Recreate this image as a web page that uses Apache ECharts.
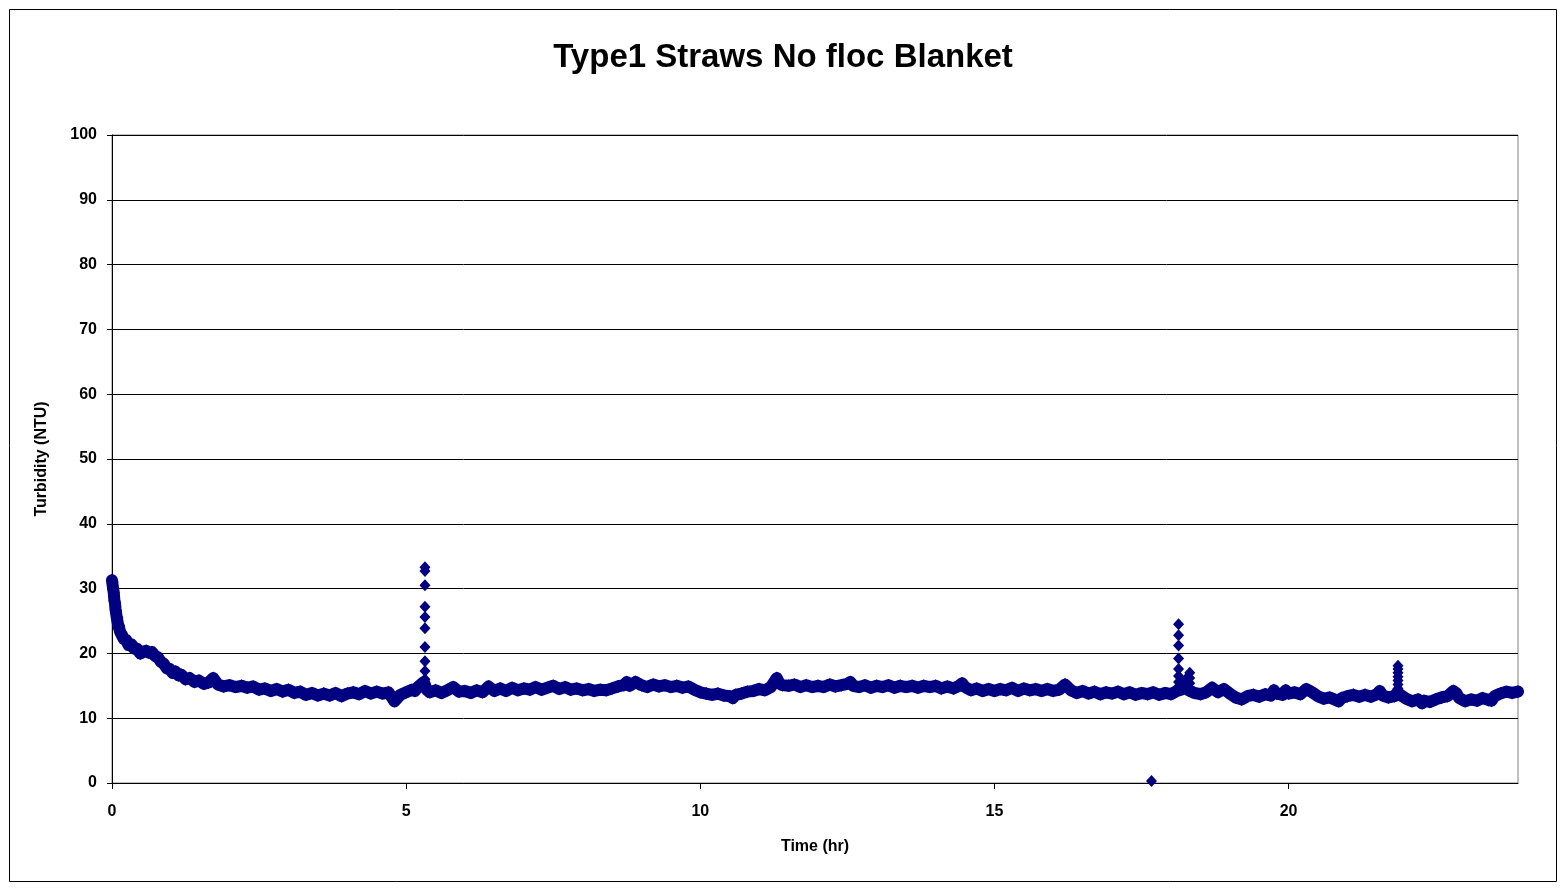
<!DOCTYPE html>
<html>
<head>
<meta charset="utf-8">
<title>Type1 Straws No floc Blanket</title>
<script src="https://cdn.jsdelivr.net/npm/echarts@6/dist/echarts.min.js"></script>
<style>
  html, body { margin: 0; padding: 0; background: #fff; }
  #chartContent { width: 1566px; height: 891px; }
</style>
</head>
<body>
<div id="chartContent"></div>
<script>
// ---- data ----
// baseline run of readings (hr, NTU)
var baseTime = [
  0, 0.01, 0.02, 0.03, 0.04, 0.05, 0.06, 0.07, 0.08, 0.09, 0.10, 0.12, 0.14, 0.17, 0.20, 0.24, 0.28, 0.33, 0.38, 0.43,
  0.48, 0.53, 0.58, 0.63, 0.68, 0.73, 0.78, 0.83, 0.88, 0.93, 0.98, 1.03, 1.08, 1.13, 1.18, 1.25, 1.32, 1.40, 1.48, 1.56,
  1.64, 1.72,
  1.8, 1.9, 2.0, 2.1, 2.2, 2.3, 2.4, 2.5, 2.6, 2.7, 2.8, 2.9,
  3.0, 3.1, 3.2, 3.3, 3.4, 3.5, 3.6, 3.7, 3.8, 3.9,
  4.0, 4.1, 4.2, 4.3, 4.4, 4.5, 4.6, 4.7, 4.75, 4.8, 4.85, 4.9,
  5.0, 5.1, 5.15, 5.2, 5.25, 5.3, 5.35,
  5.4, 5.5, 5.6, 5.7, 5.8, 5.9, 6.0, 6.1, 6.2, 6.3, 6.4, 6.5, 6.6, 6.7, 6.8, 6.9,
  7.0, 7.1, 7.2, 7.3, 7.4, 7.5, 7.6, 7.7, 7.8, 7.9,
  8.0, 8.1, 8.2, 8.3, 8.4, 8.5, 8.6, 8.7, 8.75, 8.8, 8.9,
  9.0, 9.1, 9.2, 9.3, 9.4, 9.5, 9.6, 9.7, 9.8, 9.9,
  10.0, 10.1, 10.2, 10.3, 10.4, 10.5, 10.55, 10.6, 10.7, 10.8, 10.9,
  11.0, 11.1, 11.2, 11.3, 11.35, 11.4, 11.5, 11.6, 11.7, 11.8, 11.9,
  12.0, 12.1, 12.2, 12.3, 12.4, 12.5, 12.55, 12.6, 12.7, 12.8, 12.9,
  13.0, 13.1, 13.2, 13.3, 13.4, 13.5, 13.6, 13.7, 13.8, 13.9,
  14.0, 14.1, 14.2, 14.3, 14.4, 14.45, 14.5, 14.6, 14.7, 14.8, 14.9,
  15.0, 15.1, 15.2, 15.3, 15.4, 15.5, 15.6, 15.7, 15.8, 15.9,
  16.0, 16.1, 16.2, 16.3, 16.4, 16.5, 16.6, 16.7, 16.8, 16.9,
  17.0, 17.1, 17.2, 17.3, 17.4, 17.5, 17.6, 17.7, 17.8, 17.9,
  18.0, 18.1, 18.2, 18.25, 18.3, 18.4, 18.5, 18.6, 18.7, 18.8, 18.9,
  19.0, 19.1, 19.2, 19.3, 19.4, 19.5, 19.6, 19.7, 19.75, 19.8, 19.9, 19.95,
  20.0, 20.1, 20.2, 20.3, 20.4, 20.5, 20.6, 20.7, 20.8, 20.85, 20.9,
  21.0, 21.1, 21.2, 21.3, 21.4, 21.5, 21.55, 21.6, 21.7, 21.8, 21.85, 21.9,
  22.0, 22.1, 22.2, 22.27, 22.3, 22.4, 22.5, 22.6, 22.7, 22.8, 22.85, 22.9,
  23.0, 23.1, 23.2, 23.3, 23.4, 23.45, 23.5, 23.6, 23.7, 23.8, 23.9
];
var baseTurbidity = [
  31.3, 31.0, 29.9, 29.4, 28.2, 27.8, 26.8, 26.6, 25.6, 25.5, 24.6, 24.3, 23.3, 23.1, 22.2, 22.1, 21.3, 21.4, 20.7, 20.7,
  20.0, 20.2, 20.4, 20.1, 20.2, 19.6, 19.4, 18.7, 18.4, 17.7, 17.6, 17.0, 17.2, 16.6, 16.7, 16.0, 16.2, 15.6, 15.8, 15.3,
  15.5, 16.2,
  15.2, 14.9, 15.1, 14.8, 15.0, 14.7, 14.9, 14.4, 14.6, 14.2, 14.5, 14.1,
  14.4, 13.9, 14.1, 13.6, 13.9, 13.5, 13.8, 13.5, 13.9, 13.4,
  13.8, 14.0, 13.7, 14.2, 13.8, 14.1, 13.8, 14.0, 13.3, 12.6, 13.1, 13.6,
  14.0, 14.4, 14.2, 14.8, 15.2, 15.6, 14.4,
  14.0, 14.3, 13.9, 14.3, 14.8, 14.1, 14.2, 13.9, 14.3, 14.0, 14.9, 14.2, 14.6, 14.2, 14.7, 14.3,
  14.6, 14.4, 14.8, 14.4, 14.7, 15.0, 14.5, 14.8, 14.4, 14.6,
  14.3, 14.5, 14.2, 14.4, 14.3, 14.6, 14.9, 15.1, 15.6, 15.0, 15.6,
  15.1, 14.8, 15.2, 14.9, 15.1, 14.8, 15.0, 14.7, 14.9, 14.4,
  14.0, 13.8, 13.6, 13.8, 13.5, 13.4, 13.1, 13.6, 13.8, 14.1, 14.2,
  14.5, 14.3, 14.8, 16.2, 15.3, 15.1, 15.0, 15.2, 14.8, 15.1, 14.8,
  15.0, 14.8, 15.2, 14.9, 15.1, 15.3, 15.6, 15.0, 14.8, 15.1, 14.7,
  15.0, 14.8, 15.1, 14.7, 15.0, 14.8, 15.0, 14.7, 15.0, 14.8,
  15.0, 14.6, 14.9, 14.6, 15.0, 15.4, 14.8, 14.3, 14.6, 14.2, 14.5,
  14.2, 14.5, 14.3, 14.7, 14.2, 14.6, 14.3, 14.5, 14.2, 14.5,
  14.2, 14.4, 15.2, 14.3, 13.9, 14.2, 13.8, 14.1, 13.7, 14.0,
  13.8, 14.1, 13.7, 14.0, 13.6, 13.9, 13.7, 14.0, 13.6, 13.9,
  13.7, 14.2, 14.5, 15.0, 14.3, 13.9, 13.7, 14.0, 14.7, 14.0, 14.5,
  13.8, 13.2, 12.9, 13.4, 13.6, 13.3, 13.7, 13.5, 14.3, 13.8, 13.6, 14.3,
  13.8, 14.0, 13.7, 14.5, 14.0, 13.4, 13.0, 13.2, 12.8, 12.6, 13.1,
  13.4, 13.6, 13.3, 13.6, 13.3, 13.7, 14.2, 13.5, 13.2, 13.4, 14.0, 13.6,
  13.0, 12.6, 12.9, 12.3, 12.7, 12.5, 12.9, 13.2, 13.4, 14.2, 13.9, 13.1,
  12.6, 12.9, 12.7, 13.1, 12.8, 12.7, 13.4, 13.8, 14.1, 13.9, 14.1
];

// short bursts standing above the baseline
var spikeTime = [
  5.32, 5.32, 5.32, 5.32, 5.32, 5.32, 5.32, 5.32, 5.32, 5.32,
  18.13, 18.13, 18.13, 18.13, 18.13, 18.13, 18.13, 18.13, 18.2, 18.25,
  18.32, 18.32, 18.32,
  21.86, 21.86, 21.86, 21.86, 21.86, 21.86, 21.86
];
var spikeTurbidity = [
  33.3, 32.7, 30.5, 27.2, 25.6, 23.9, 21.0, 18.8, 17.3, 16.0,
  24.5, 22.8, 21.2, 19.2, 17.6, 16.5, 15.6, 14.9, 15.5, 16.0,
  17.0, 16.2, 15.4,
  18.1, 17.6, 17.0, 16.4, 15.8, 15.2, 14.6
];

// single low reading
var dropTime = [17.67];
var dropTurbidity = [0.3];

// axis ticks
var timeTicks = [0, 5, 10, 15, 20];
var timeMax = 23.9;

function zip(xs, ys) {
  var out = [];
  for (var i = 0; i < xs.length; i++) out.push([xs[i], ys[i]]);
  return out;
}

var navy = '#000080';
var font = '"Liberation Sans", Arial, sans-serif';
var markerStyle = { color: navy, opacity: 1 };

var myChart = echarts.init(document.getElementById('chartContent'));

var optionContent = {
  animation: false,
  backgroundColor: '#fff',
  title: {
    text: 'Type1 Straws No floc Blanket',
    left: 'center',
    top: 36,
    textStyle: { fontFamily: font, fontWeight: 'bold', fontSize: 33, color: '#000' }
  },
  graphic: [{
    type: 'rect',
    shape: { x: 9.5, y: 9.5, width: 1547, height: 872 },
    style: { fill: null, stroke: '#000', lineWidth: 1 },
    silent: true
  }],
  grid: {
    left: 112, top: 135, right: 48, bottom: 108,
    show: true, borderColor: '#808080', borderWidth: 1,
    containLabel: false
  },
  xAxis: {
    type: 'value',
    min: 0,
    max: timeMax,
    interval: 5,
    name: 'Time (hr)',
    nameLocation: 'middle',
    nameGap: 56,
    nameTextStyle: { fontFamily: font, fontWeight: 'bold', fontSize: 16, color: '#000' },
    axisLine: { lineStyle: { color: '#000', width: 1 } },
    axisTick: { length: 6, customValues: timeTicks, lineStyle: { color: '#000' } },
    axisLabel: {
      margin: 21,
      customValues: timeTicks,
      fontFamily: font, fontWeight: 'bold', fontSize: 16, color: '#000',
      formatter: function (v) { return timeTicks.indexOf(v) >= 0 ? String(v) : ''; }
    },
    splitLine: { show: false }
  },
  yAxis: {
    type: 'value',
    min: 0,
    max: 100,
    interval: 10,
    name: 'Turbidity (NTU)',
    nameLocation: 'middle',
    nameGap: 62,
    nameTextStyle: { fontFamily: font, fontWeight: 'bold', fontSize: 16, color: '#000' },
    axisLine: { show: true, lineStyle: { color: '#000', width: 1 } },
    axisTick: { show: true, length: 5, lineStyle: { color: '#000' } },
    axisLabel: { margin: 15, fontFamily: font, fontWeight: 'bold', fontSize: 16, color: '#000' },
    splitLine: { show: true, lineStyle: { color: '#000', width: 1 } }
  },
  series: [
    {
      name: 'baseline',
      type: 'line',
      data: zip(baseTime, baseTurbidity),
      symbol: 'diamond',
      symbolSize: [12, 13],
      showAllSymbol: true,
      itemStyle: markerStyle,
      lineStyle: { color: navy, width: 12, join: 'round', cap: 'round' },
      clip: false,
      z: 3
    },
    {
      name: 'spikes',
      type: 'scatter',
      data: zip(spikeTime, spikeTurbidity),
      symbol: 'diamond',
      symbolSize: [11, 12],
      itemStyle: markerStyle,
      z: 4
    },
    {
      name: 'drop',
      type: 'scatter',
      data: zip(dropTime, dropTurbidity),
      symbol: 'diamond',
      symbolSize: [11, 12],
      itemStyle: markerStyle,
      clip: false,
      z: 4
    }
  ]
};

myChart.setOption(optionContent);
</script>
</body>
</html>
